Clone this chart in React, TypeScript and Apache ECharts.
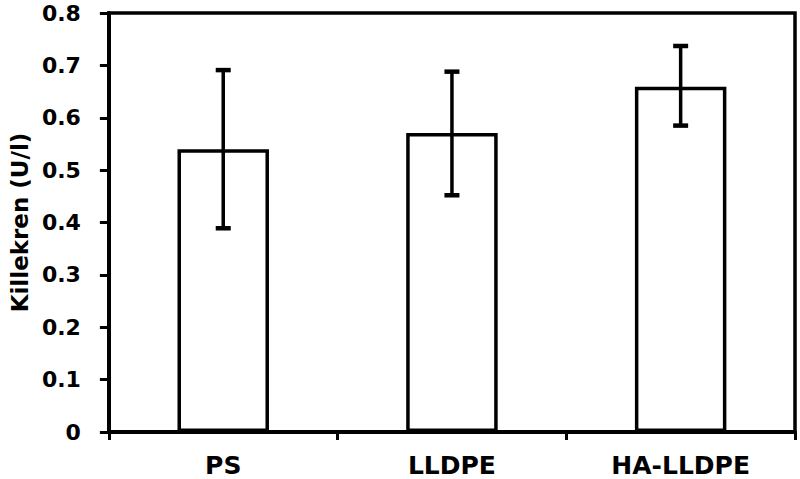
import React, { useEffect, useRef } from "react";
import * as echarts from "echarts";

const categories = ["PS", "LLDPE", "HA-LLDPE"];
const meanValues = [0.54, 0.571, 0.659];
const errLow = [0.389, 0.452, 0.585];
const errHigh = [0.691, 0.688, 0.737];
const yTicks = [0, 0.1, 0.2, 0.3, 0.4, 0.5, 0.6, 0.7, 0.8];

const FONT = "'DejaVu Sans', 'Liberation Sans', Arial, sans-serif";

export default function App() {
  const ref = useRef<HTMLDivElement>(null);
  useEffect(() => {
    if (!ref.current) return;
    const chart = echarts.init(ref.current, undefined, { renderer: "svg" });
    const errData = categories.map((_, i) => [i, errLow[i], errHigh[i]]);
    chart.setOption({
      animation: false,
      backgroundColor: "#fff",
      grid: {
        left: 105,
        right: 5,
        top: 13,
        bottom: 47,
        show: true,
        borderColor: "#000",
        borderWidth: 3.5,
        backgroundColor: "transparent",
      },
      xAxis: {
        type: "category",
        data: categories,
        axisLine: { lineStyle: { color: "#000", width: 4 } },
        axisTick: { show: true, length: 8, lineStyle: { color: "#000", width: 3 } },
        axisLabel: {
          color: "#000",
          fontFamily: FONT,
          fontWeight: "bold",
          fontSize: 25,
          margin: 21,
        },
        splitLine: { show: false },
      },
      yAxis: {
        type: "value",
        min: 0,
        max: 0.8,
        interval: 0.1,
        name: "Killekren (U/l)",
        nameLocation: "middle",
        nameRotate: 90,
        nameGap: 77,
        nameTextStyle: {
          color: "#000",
          fontFamily: FONT,
          fontWeight: "bold",
          fontSize: 23,
        },
        axisLine: { show: true, lineStyle: { color: "#000", width: 4 } },
        axisTick: { show: true, length: 9, lineStyle: { color: "#000", width: 3 } },
        axisLabel: {
          color: "#000",
          fontFamily: FONT,
          fontWeight: "bold",
          fontSize: 22,
          margin: 28,
          formatter: (v: number) => {
            const t = yTicks.find((x) => Math.abs(x - v) < 1e-9);
            return t === 0 ? "0" : String(Math.round(v * 10) / 10);
          },
        },
        splitLine: { show: false },
      },
      series: [
        {
          type: "bar",
          data: meanValues,
          barWidth: "40%",
          itemStyle: { color: "#fff", borderColor: "#000", borderWidth: 3.5 },
          z: 2,
        },
        {
          type: "custom",
          data: errData,
          z: 3,
          renderItem: (params: any, api: any) => {
            const x = api.value(0);
            const lo = api.coord([x, api.value(1)]);
            const hi = api.coord([x, api.value(2)]);
            const half = 7.5;
            const style = { stroke: "#000", lineWidth: 3.5 };
            return {
              type: "group",
              children: [
                { type: "line", shape: { x1: lo[0], y1: lo[1], x2: hi[0], y2: hi[1] }, style },
                { type: "line", shape: { x1: lo[0] - half, y1: lo[1], x2: lo[0] + half, y2: lo[1] }, style: { stroke: "#000", lineWidth: 4.5 } },
                { type: "line", shape: { x1: hi[0] - half, y1: hi[1], x2: hi[0] + half, y2: hi[1] }, style: { stroke: "#000", lineWidth: 4.5 } },
              ],
            };
          },
        },
      ],
    });
    return () => chart.dispose();
  }, []);
  return (
    <div
      ref={ref}
      style={{ position: "fixed", left: 0, top: 0, width: 800, height: 479 }}
    />
  );
}
